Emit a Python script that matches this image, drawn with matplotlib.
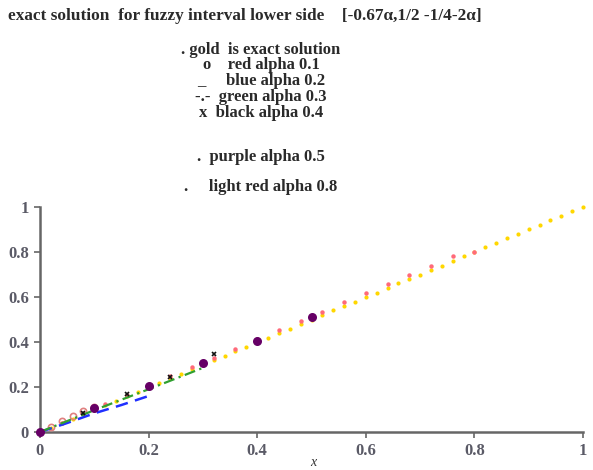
import numpy as np
import matplotlib
matplotlib.use("Agg")
import matplotlib.pyplot as plt

# exact solution (gold), step 0.02
gold_x = [0.00, 0.02, 0.04, 0.06, 0.08, 0.10, 0.12, 0.14, 0.16, 0.18,
          0.20, 0.22, 0.24, 0.26, 0.28, 0.30, 0.32, 0.34, 0.36, 0.38,
          0.40, 0.42, 0.44, 0.46, 0.48, 0.50, 0.52, 0.54, 0.56, 0.58,
          0.60, 0.62, 0.64, 0.66, 0.68, 0.70, 0.72, 0.74, 0.76, 0.78,
          0.80, 0.82, 0.84, 0.86, 0.88, 0.90, 0.92, 0.94, 0.96, 0.98, 1.00]
gold_y = gold_x

# approximate solutions for each alpha
red_x = [0.0, 0.02, 0.04, 0.06, 0.08, 0.10]
red_y = [0.0, 0.024, 0.047, 0.070, 0.093, 0.112]

blue_x = [0.0, 0.05, 0.10, 0.15, 0.20]
blue_y = [0.0, 0.040, 0.083, 0.120, 0.160]

green_x = [0.0, 0.10, 0.20, 0.30]
green_y = [0.0, 0.097, 0.190, 0.285]

black_x = [0.0, 0.08, 0.16, 0.24, 0.32]
black_y = [0.0, 0.085, 0.170, 0.245, 0.345]

purple_x = [0.0, 0.1, 0.2, 0.3, 0.4, 0.5]
purple_y = [0.0, 0.105, 0.205, 0.305, 0.405, 0.51]

lred_x = [0.00, 0.04, 0.08, 0.12, 0.16, 0.20, 0.24, 0.28, 0.32, 0.36, 0.40,
          0.44, 0.48, 0.52, 0.56, 0.60, 0.64, 0.68, 0.72, 0.76, 0.80]
lred_y = [0.00, 0.042, 0.083, 0.124, 0.165, 0.206, 0.247, 0.288, 0.330, 0.371, 0.412,
          0.453, 0.494, 0.535, 0.576, 0.617, 0.658, 0.700, 0.740, 0.782, 0.80]

title = "exact solution  for fuzzy interval lower side    [-0.67\u03b1,1/2 -1/4-2\u03b1]"
legend_lines = [
    (". gold  is exact solution", 50),
    ("o    red alpha 0.1", 65),
    ("_     blue alpha 0.2", 81),
    ("-.-  green alpha 0.3", 97),
    ("x  black alpha 0.4", 113),
    (".  purple alpha 0.5", 157),
    (".     light red alpha 0.8", 187),
]

W, H = 593, 470
fig = plt.figure(figsize=(W / 100, H / 100), dpi=100)
ax = fig.add_axes([40 / W, (H - 432) / H, 543 / W, 225 / H])

serif = "Liberation Serif"
fig.text(8 / W, 1 - 16 / H, title, fontsize=12.4, family=serif, weight="bold",
         color="#2a2a2a", va="center", ha="left")
for txt, ypx in legend_lines:
    fig.text(261 / W, 1 - ypx / H, txt, fontsize=12, family=serif, weight="bold",
             color="#2a2a2a", va="center", ha="center")

ax.plot(gold_x, gold_y, linestyle="none", marker="o", markersize=3,
        color="#ffd700", markeredgewidth=0, clip_on=False, zorder=2)
ax.plot(lred_x, lred_y, linestyle="none", marker="o", markersize=3.2,
        color="#ff6a7a", markeredgewidth=0, clip_on=False, zorder=3)
ax.plot(red_x, red_y, linestyle="none", marker="o", markersize=4.5,
        markerfacecolor="none", markeredgecolor="#e08080", markeredgewidth=1.2,
        clip_on=False, zorder=3)
ax.plot(blue_x, blue_y, linestyle=(0, (5, 3)), color="#2030ff", linewidth=1.8,
        clip_on=False, zorder=3)
ax.plot(green_x, green_y, linestyle=(0, (5, 2, 1, 2)), color="#30a030", linewidth=1.6,
        clip_on=False, zorder=3)
ax.plot(black_x, black_y, linestyle="none", marker="x", markersize=3.5,
        color="#111111", markeredgewidth=1.2, clip_on=False, zorder=4)
ax.plot(purple_x, purple_y, linestyle="none", marker="o", markersize=6.5,
        color="#660066", markeredgewidth=0, clip_on=False, zorder=5)

ax.set_xlim(0, 1)
ax.set_ylim(0, 1)
ax.set_xticks([0, 0.2, 0.4, 0.6, 0.8, 1])
ax.set_xticklabels(["0", "0.2", "0.4", "0.6", "0.8", "1"])
ax.set_yticks([0, 0.2, 0.4, 0.6, 0.8, 1])
ax.set_yticklabels(["0", "0.2", "0.4", "0.6", "0.8", "1"])
for side in ["top", "right"]:
    ax.spines[side].set_visible(False)
for side in ["left", "bottom"]:
    ax.spines[side].set_color("#666666")
    ax.spines[side].set_linewidth(1.8)
ax.tick_params(direction="out", length=4, width=1.2, color="#666666",
               labelcolor="#5a5a66", labelsize=12, pad=4)
for lab in ax.get_xticklabels() + ax.get_yticklabels():
    lab.set_family(serif)
    lab.set_weight("bold")
fig.text(313 / W, 1 - 462 / H, "x", family=serif, style="italic", fontsize=10,
         color="#333333", ha="center", va="center")

fig.savefig("out.png", dpi=100)
